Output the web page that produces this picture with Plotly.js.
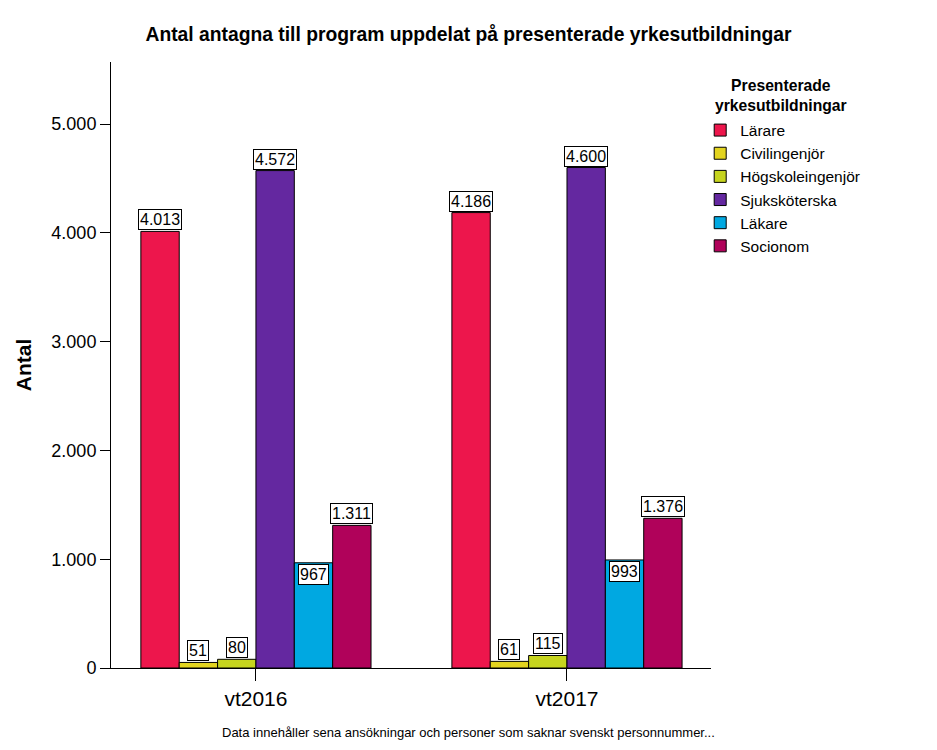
<!DOCTYPE html>
<html>
<head>
<meta charset="utf-8">
<script src="https://cdn.plot.ly/plotly-3.0.1.min.js"></script>
<style>html,body{margin:0;padding:0;background:#fff;}#chart{width:937px;height:750px;}</style>
</head>
<body>
<div id="chart"></div>
<script>
const categories = ["vt2016", "vt2017"];
const seriesNames = ["Lärare", "Civilingenjör", "Högskoleingenjör", "Sjuksköterska", "Läkare", "Socionom"];
const larare = [4013, 4186];
const civilingenjor = [51, 61];
const hogskoleingenjor = [80, 115];
const sjukskoterska = [4572, 4600];
const lakare = [967, 993];
const socionom = [1311, 1376];
const seriesValues = [larare, civilingenjor, hogskoleingenjor, sjukskoterska, lakare, socionom];
const colors = ["#ED164C", "#E3D41F", "#C6D41E", "#6428A0", "#00A8E1", "#B0025A"];
const insideLabel = [false, false, false, false, true, false];
const yTicks = [0, 1000, 2000, 3000, 4000, 5000];
const legendTitle = "Presenterade<br>yrkesutbildningar";

const FONT = "Arial, 'Liberation Sans', sans-serif";
const bargap = 0.26;

function fmt(v) {
  return String(v).replace(/\B(?=(\d{3})+(?!\d))/g, ".");
}

const traces = seriesNames.map((name, i) => ({
  type: "bar",
  name: name,
  x: categories.map((c, k) => k),
  y: seriesValues[i],
  marker: { color: colors[i], line: { color: "#000", width: 1 } },
  hoverinfo: "skip"
}));

const annotations = [];
const groupW = 1 - bargap;
const barW = groupW / seriesNames.length;
seriesValues.forEach((vals, i) => {
  vals.forEach((v, k) => {
    const xc = k - groupW / 2 + (i + 0.5) * barW;
    annotations.push({
      x: xc, y: v, xref: "x", yref: "y",
      text: fmt(v), showarrow: false,
      yanchor: insideLabel[i] ? "top" : "bottom",
      yshift: insideLabel[i] ? -1 : 1,
      font: { family: FONT, size: 16, color: "#000" },
      bgcolor: "#fff", bordercolor: "#000", borderwidth: 1, borderpad: 1
    });
  });
});
annotations.push({
  x: 0.595, y: -0.107, xref: "paper", yref: "paper",
  text: "Data innehåller sena ansökningar och personer som saknar svenskt personnummer...",
  showarrow: false, xanchor: "center", yanchor: "middle",
  font: { family: FONT, size: 13, color: "#000" }
});
annotations.push({
  x: 1.117, y: 0.9455, xref: "paper", yref: "paper",
  text: "<b>" + legendTitle + "</b>",
  showarrow: false, xanchor: "center", yanchor: "middle", align: "center",
  font: { family: FONT, size: 15.7, color: "#000" }
});

const layout = {
  width: 937, height: 750,
  margin: { l: 111, r: 226, t: 62, b: 82 },
  paper_bgcolor: "#fff", plot_bgcolor: "#fff",
  separators: ",.",
  barmode: "group", bargap: bargap, bargroupgap: 0,
  title: {
    text: "<b>Antal antagna till program uppdelat på presenterade yrkesutbildningar</b>",
    x: 0.5, xref: "container", xanchor: "center",
    y: 1 - 34 / 750, yref: "container", yanchor: "middle",
    font: { family: FONT, size: 19.3, color: "#000" }
  },
  xaxis: {
    type: "linear",
    range: [-0.466, 1.463],
    tickvals: [0, 1], ticktext: categories,
    ticks: "outside", ticklen: 12, tickcolor: "#000", tickwidth: 1,
    showline: true, linecolor: "#000", linewidth: 1,
    showgrid: false, zeroline: false,
    tickfont: { family: FONT, size: 21, color: "#000" }
  },
  yaxis: {
    range: [0, 5570],
    tickvals: yTicks, ticktext: yTicks.map(fmt),
    ticks: "outside", ticklen: 10, tickcolor: "#000", tickwidth: 1,
    showline: true, linecolor: "#000", linewidth: 1,
    showgrid: false, zeroline: false,
    tickfont: { family: FONT, size: 18, color: "#000" },
    title: { text: "<b>Antal</b>", standoff: 14, font: { family: FONT, size: 21, color: "#000" } }
  },
  legend: {
    x: 0.982, xanchor: "left", y: 0.915, yanchor: "top",
    bgcolor: "rgba(0,0,0,0)",
    font: { family: FONT, size: 15.5, color: "#000" },
    tracegroupgap: 0, itemwidth: 30
  },
  annotations: annotations,
  showlegend: true
};

Plotly.newPlot("chart", traces, layout, { displayModeBar: false, staticPlot: true });
</script>
</body>
</html>
